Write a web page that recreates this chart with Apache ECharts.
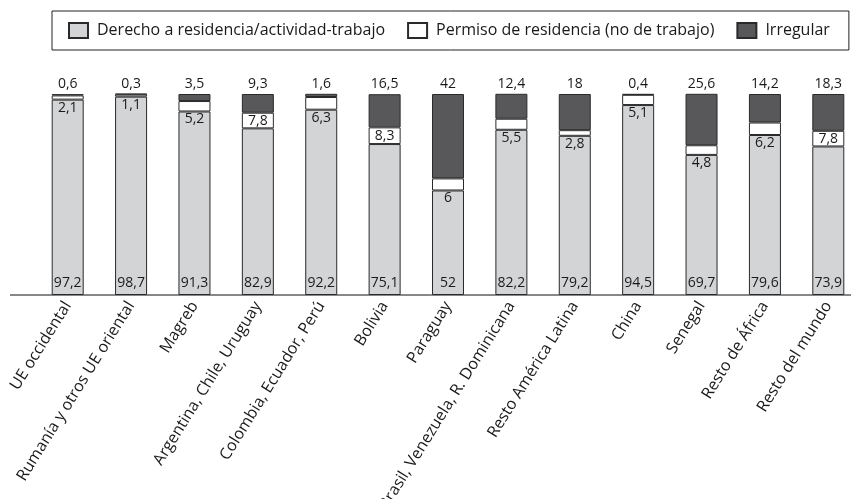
<!DOCTYPE html>
<html>
<head>
<meta charset="utf-8">
<script src="https://cdn.jsdelivr.net/npm/echarts@6/dist/echarts.min.js"></script>
<style>
html,body{margin:0;padding:0;background:#fff;}
#chart{width:851px;height:499px;}
</style>
</head>
<body>
<div id="chart"></div>
<script>
const categories = ['UE occidental','Rumanía y otros UE oriental','Magreb','Argentina, Chile, Uruguay','Colombia, Ecuador, Perú','Bolivia','Paraguay','Brasil, Venezuela, R. Dominicana','Resto América Latina','China','Senegal','Resto de África','Resto del mundo'];
const derecho = [97.2, 98.7, 91.3, 82.9, 92.2, 75.1, 52, 82.2, 79.2, 94.5, 69.7, 79.6, 73.9];
const permiso = [2.1, 1.1, 5.2, 7.8, 6.3, 8.3, 6, 5.5, 2.8, 5.1, 4.8, 6.2, 7.8];
const irregular = [0.6, 0.3, 3.5, 9.3, 1.6, 16.5, 42, 12.4, 18, 0.4, 25.6, 14.2, 18.3];
const seriesNames = ['Derecho a residencia/actividad-trabajo','Permiso de residencia (no de trabajo)','Irregular'];

const FONT = 'Open Sans';
const fmt = v => String(v).replace('.', ',');
const chart = echarts.init(document.getElementById('chart'), null, {renderer:'canvas'});
const labelBase = {show:true, fontFamily:FONT, fontSize:14, color:'#1a1a1a', formatter: p => fmt(p.value)};

chart.setOption({
  animation:false,
  textStyle:{fontFamily:FONT},
  legend:{
    left:52, top:11,
    padding:[11,19,11,16],
    borderColor:'#222', borderWidth:1,
    icon:'rect',
    itemWidth:19, itemHeight:15, itemGap:22,
    textStyle:{fontFamily:FONT, fontSize:16, color:'#1a1a1a', padding:[0,0,0,4]},
    data: seriesNames
  },
  grid:{left:36, top:94, width:824, height:201, containLabel:false, outerBoundsMode:'none'},
  xAxis:{
    type:'category', data:categories,
    axisLine:{show:false}, axisTick:{show:false},
    axisLabel:{rotate:58, interval:0, margin:8, fontFamily:FONT, fontSize:16, color:'#1a1a1a'}
  },
  yAxis:{type:'value', min:0, max:100, show:false, splitLine:{show:false}},
  graphic:[{type:'line', shape:{x1:10,y1:295,x2:851,y2:295}, style:{stroke:'#111', lineWidth:1}}],
  series:[
    {name:seriesNames[0], type:'bar', stack:'s', barWidth:32, data:derecho,
     itemStyle:{color:'#d3d4d6', borderColor:'#2a2a2a', borderWidth:1},
     label:Object.assign({}, labelBase, {position:'insideBottom', distance:5})},
    {name:seriesNames[1], type:'bar', stack:'s', barWidth:32,
     data: permiso.map(v => ({value:v, label:{position: v >= 7 ? 'inside' : 'bottom', distance: v >= 7 ? 0 : 1}})),
     itemStyle:{color:'#ffffff', borderColor:'#2a2a2a', borderWidth:1},
     label:Object.assign({}, labelBase)},
    {name:seriesNames[2], type:'bar', stack:'s', barWidth:32, data:irregular,
     itemStyle:{color:'#58585a', borderColor:'#2a2a2a', borderWidth:1},
     label:Object.assign({}, labelBase, {position:'top', distance:3})}
  ]
});
</script>
</body>
</html>
